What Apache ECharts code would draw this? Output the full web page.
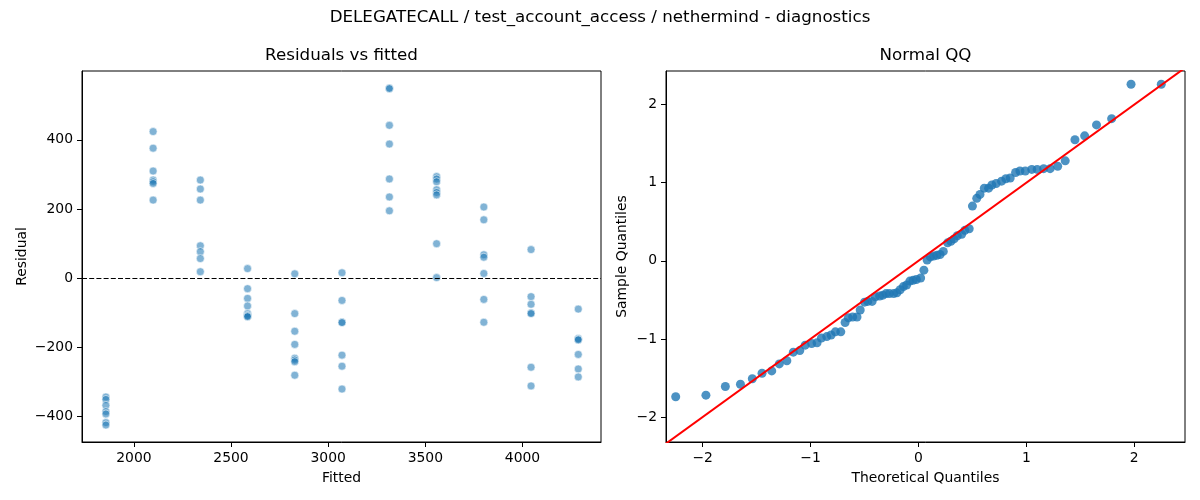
<!DOCTYPE html>
<html>
<head>
<meta charset="utf-8">
<script src="https://cdn.jsdelivr.net/npm/echarts@6/dist/echarts.min.js"></script>
<style>
html,body{margin:0;padding:0;background:#fff;}
#chart{width:1200px;height:500px;}
</style>
</head>
<body>
<div id="chart"></div>
<script>
// ---- Data ----
const suptitle = "DELEGATECALL / test_account_access / nethermind - diagnostics";
const leftTitle = "Residuals vs fitted";
const rightTitle = "Normal QQ";

// fitted value of each group (x position of each vertical cluster)
const fittedValues = [1856, 2099, 2342, 2585, 2828, 3071, 3315, 3558, 3801, 4044, 4287];
// residuals of each group, same order as fittedValues
const residualGroups = [
  [-343, -350, -367, -385, -392, -417, -424],
  [424, 376, 310, 284, 279, 274, 226],
  [284, 258, 226, 94, 77, 57, 19],
  [28, -30, -58, -80, -102, -107, -109, -111],
  [13, -102, -153, -191, -231, -236, -241, -280],
  [16, -64, -127, -128, -222, -254, -320],
  [550, 548, 442, 388, 287, 235, 195],
  [294, 287, 279, 256, 248, 241, 100, 2],
  [206, 169, 68, 61, 14, -61, -127],
  [83, -53, -75, -100, -102, -257, -311],
  [-89, -174, -176, -178, -220, -262, -285]
];

// Normal QQ points
const qqTheoretical = [
  -2.25, -1.97, -1.79, -1.65, -1.54, -1.45, -1.36, -1.29, -1.22, -1.16,
  -1.10, -1.05, -0.99, -0.94, -0.90, -0.85, -0.81, -0.77, -0.72, -0.68,
  -0.65, -0.61, -0.57, -0.54, -0.50, -0.47, -0.43, -0.40, -0.36, -0.33,
  -0.30, -0.27, -0.23, -0.20, -0.17, -0.14, -0.11, -0.08, -0.05, -0.02,
   0.02,  0.05,  0.08,  0.11,  0.14,  0.17,  0.20,  0.23,  0.27,  0.30,
   0.33,  0.36,  0.40,  0.43,  0.47,  0.50,  0.54,  0.57,  0.61,  0.65,
   0.68,  0.72,  0.77,  0.81,  0.85,  0.90,  0.94,  0.99,  1.05,  1.10,
   1.16,  1.22,  1.29,  1.36,  1.45,  1.54,  1.65,  1.79,  1.97,  2.25
];
const qqSample = [
  -1.74, -1.72, -1.61, -1.58, -1.51, -1.44, -1.41, -1.32, -1.28, -1.17,
  -1.15, -1.08, -1.06, -1.05, -0.99, -0.97, -0.95, -0.91, -0.91, -0.79,
  -0.73, -0.72, -0.72, -0.63, -0.53, -0.52, -0.52, -0.46, -0.45, -0.44,
  -0.42, -0.42, -0.42, -0.41, -0.37, -0.33, -0.31, -0.26, -0.25, -0.24,
  -0.22, -0.12,  0.01,  0.05,  0.06,  0.07,  0.08,  0.12,  0.23,  0.25,
   0.28,  0.32,  0.34,  0.39,  0.41,  0.70,  0.80,  0.85,  0.93,  0.93,
   0.97,  0.99,  1.02,  1.05,  1.06,  1.13,  1.15,  1.15,  1.17,  1.17,
   1.18,  1.18,  1.21,  1.28,  1.55,  1.60,  1.74,  1.82,  2.26,  2.26
];
// 45-degree reference line end points
const refLine = [[-2.6, -2.6], [2.6, 2.6]];

// tick labels
const fittedTicks = [2000, 2500, 3000, 3500, 4000];
const residualTicks = [-400, -200, 0, 200, 400];
const theoTicks = [-2, -1, 0, 1, 2];
const sampleTicks = [-2, -1, 0, 1, 2];

// ---- Build chart ----
const FONT = "DejaVu Sans";
const residualPoints = [];
fittedValues.forEach((f, i) => residualGroups[i].forEach(r => residualPoints.push([f, r])));
const qqPoints = qqTheoretical.map((t, i) => [t, qqSample[i]]);

const minusFmt = v => String(v).replace('-', '\u2212');

function axisBase(ticks, extra) {
  return Object.assign({
    type: 'value',
    scale: false,
    splitLine: { show: false },
    axisLine: { show: true, onZero: false, lineStyle: { color: '#000', width: 1 } },
    axisTick: { show: true, inside: false, length: 5, customValues: ticks, lineStyle: { color: '#000', width: 1 } },
    axisLabel: { show: true, customValues: ticks, color: '#000', fontSize: 13.9, fontFamily: FONT, margin: 9, formatter: minusFmt },
    nameLocation: 'middle',
    nameTextStyle: { color: '#000', fontSize: 13.9, fontFamily: FONT }
  }, extra);
}

const chart = echarts.init(document.getElementById('chart'), null, { renderer: 'canvas' });
chart.setOption({
  animation: false,
  backgroundColor: '#fff',
  grid: [
    { left: 82, top: 71, width: 519, height: 371, show: true, borderColor: '#000', borderWidth: 1, backgroundColor: 'transparent' },
    { left: 666, top: 71, width: 519, height: 371, show: true, borderColor: '#000', borderWidth: 1, backgroundColor: 'transparent' }
  ],
  xAxis: [
    axisBase(fittedTicks, { gridIndex: 0, min: 1733, max: 4404, name: 'Fitted', nameGap: 29 }),
    axisBase(theoTicks, { gridIndex: 1, min: -2.34, max: 2.47, name: 'Theoretical Quantiles', nameGap: 29 })
  ],
  yAxis: [
    axisBase(residualTicks, { gridIndex: 0, min: -473, max: 599, name: 'Residual', nameGap: 53, nameRotate: 90 }),
    axisBase(sampleTicks, { gridIndex: 1, min: -2.32, max: 2.43, name: 'Sample Quantiles', nameGap: 37, nameRotate: 90 })
  ],
  graphic: [
    { type: 'text', x: 600, y: 18, style: { text: suptitle, fill: '#000', font: '16.7px "DejaVu Sans"', textAlign: 'center', textVerticalAlign: 'middle' } },
    { type: 'text', x: 341.5, y: 56, style: { text: leftTitle, fill: '#000', font: '16.7px "DejaVu Sans"', textAlign: 'center', textVerticalAlign: 'middle' } },
    { type: 'text', x: 925.5, y: 56, style: { text: rightTitle, fill: '#000', font: '16.7px "DejaVu Sans"', textAlign: 'center', textVerticalAlign: 'middle' } }
  ],
  series: [
    {
      type: 'scatter', xAxisIndex: 0, yAxisIndex: 0,
      data: residualPoints,
      symbol: 'circle', symbolSize: 8,
      itemStyle: { color: 'rgba(31,119,180,0.7)', borderColor: '#fff', borderWidth: 0.7 },
      markLine: {
        silent: true, symbol: ['none', 'none'],
        label: { show: false },
        lineStyle: { color: '#000', width: 1, type: [5, 2.2] },
        data: [{ yAxis: 0 }]
      },
      z: 2
    },
    {
      type: 'scatter', xAxisIndex: 1, yAxisIndex: 1,
      data: qqPoints,
      symbol: 'circle', symbolSize: 9,
      itemStyle: { color: '#1f77b4' },
      z: 2
    },
    {
      type: 'line', xAxisIndex: 1, yAxisIndex: 1,
      data: refLine, showSymbol: false, clip: true,
      lineStyle: { color: '#ff0000', width: 2 },
      z: 3
    }
  ]
});
</script>
</body>
</html>
